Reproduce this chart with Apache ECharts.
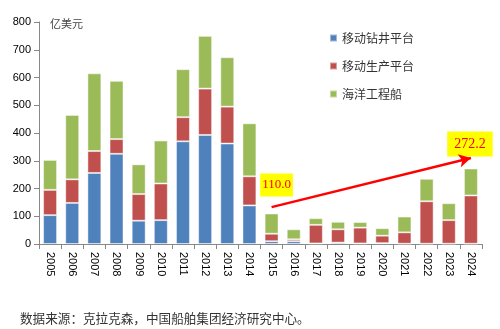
<!DOCTYPE html>
<html>
<head>
<meta charset="utf-8">
<script src="https://cdn.jsdelivr.net/npm/echarts@6/dist/echarts.min.js"></script>
<style>html,body{margin:0;padding:0;background:#fff}#c{width:500px;height:329px}</style>
</head>
<body>
<div id="c"></div>
<script>
var years = ['2005','2006','2007','2008','2009','2010','2011','2012','2013','2014','2015','2016','2017','2018','2019','2020','2021','2022','2023','2024'];
var drilling = [104,148,256,325,84,86,370,393,362,139,10,10,2,5,2,3,1,1,1,1];
var production = [91,85,79,53,96,132,87,167,133,105,27,7,67,48,57,27,41,153,85,174];
var vessels = [108,232,280,210,107,155,173,190,178,191,73,36,24,27,20,27,57,81,61,97];
var yTicks = [0,100,200,300,400,500,600,700,800];
var annoIdx = [10,19];
var annoText = ['110.0','272.2'];
var arrowFrom = ['2015',133];
var arrowTo = ['2024',310];

var chart = echarts.init(document.getElementById('c'));
var fontSans = 'Liberation Sans';
var fontCJK = 'Noto Sans CJK SC';

var vesselData = vessels.map(function(v,i){
  var k = annoIdx.indexOf(i);
  if (k < 0) return v;
  var first = k === 0;
  return {
    value: v,
    label: {
      show: true,
      position: 'top',
      distance: first ? 17 : 12,
      offset: first ? [5,0] : [-1,0],
      formatter: '{t|' + annoText[k] + '}',
      backgroundColor: '#FFFF00',
      padding: first ? [5,2,5,2] : [6,7,5,7],
      rich: {
        t: {color: '#FF0000', fontFamily: 'Liberation Serif', fontSize: first ? 13 : 14, textBorderWidth: 0}
      }
    }
  };
});

var barBorder = {borderColor:'rgba(255,255,255,0.45)', borderWidth:1};

chart.setOption({
  animation: false,
  grid: {left: 39, right: 18, top: 22, bottom: 85},
  legend: {
    orient: 'vertical', left: 324, top: 27, itemWidth: 7, itemHeight: 7, itemGap: 16,
    icon: 'rect',
    textStyle: {fontFamily: fontCJK, fontSize: 12, color: '#333'},
    data: ['移动钻井平台','移动生产平台','海洋工程船']
  },
  xAxis: {
    type: 'category', data: years,
    axisLine: {lineStyle: {color: '#888'}},
    axisTick: {show: true, length: 5, lineStyle: {color: '#888'}},
    axisLabel: {rotate: -90, margin: 8, fontFamily: fontSans, fontSize: 11, color: '#000'}
  },
  yAxis: {
    type: 'value', min: yTicks[0], max: yTicks[yTicks.length-1], interval: 100,
    axisLine: {show: true, lineStyle: {color: '#888'}},
    axisTick: {show: true, length: 5, lineStyle: {color: '#888'}},
    splitLine: {show: false},
    axisLabel: {margin: 8, fontFamily: fontSans, fontSize: 11, color: '#000'}
  },
  series: [
    {name: '移动钻井平台', type: 'bar', stack: 'a', data: drilling, barCategoryGap: '37%', itemStyle: Object.assign({color: '#4F81BD'}, barBorder)},
    {name: '移动生产平台', type: 'bar', stack: 'a', data: production, itemStyle: Object.assign({color: '#C0504D'}, barBorder)},
    {name: '海洋工程船', type: 'bar', stack: 'a', data: vesselData, itemStyle: Object.assign({color: '#9BBB59'}, barBorder),
     markLine: {
       silent: true, symbol: ['none','arrow'], symbolSize: [10,12],
       lineStyle: {color: '#FF0000', width: 2.5, type: 'solid'},
       label: {show: false},
       data: [[{coord: arrowFrom}, {coord: arrowTo}]]
     }}
  ],
  graphic: [
    {type: 'text', left: 50, top: 18, style: {text: '亿美元', fontFamily: fontCJK, fontSize: 11, fill: '#444'}},
    {type: 'text', left: 20, top: 312, style: {text: '数据来源：克拉克森，中国船舶集团经济研究中心。', fontFamily: fontCJK, fontSize: 12.6, fill: '#333'}}
  ]
});
</script>
</body>
</html>
